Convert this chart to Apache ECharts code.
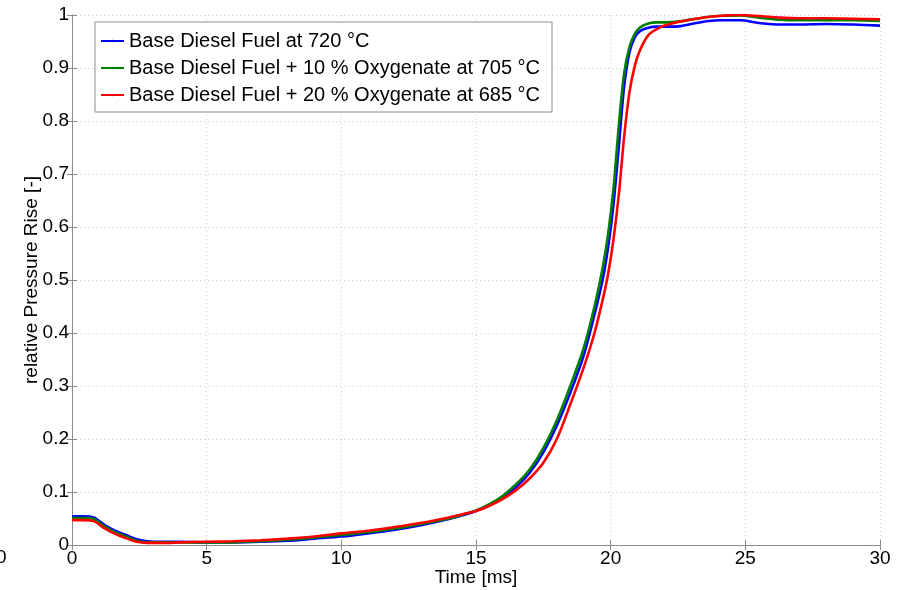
<!DOCTYPE html>
<html><head><meta charset="utf-8">
<script src="https://cdn.jsdelivr.net/npm/echarts@6/dist/echarts.min.js"></script>
<style>html,body{margin:0;padding:0;background:#fff}#c{width:905px;height:590px}</style>
</head><body><div id="c"></div>
<script>
const timeMs = [0, 0.4, 0.8, 1.2, 1.6, 2.0, 2.4, 2.8, 3.5, 4, 5, 6, 7, 8, 9, 10, 11, 12, 13, 14, 14.5, 15, 15.5, 16, 16.5, 17, 17.5, 18, 18.5, 19, 19.4, 19.7, 19.9, 20.1, 20.3, 20.5, 20.7, 20.9, 21.1, 21.4, 21.7, 22, 22.6, 23.3, 24, 24.8, 25.5, 26.3, 27, 28, 29, 30];
const base720 = [0.054, 0.054, 0.052, 0.038, 0.027, 0.019, 0.011, 0.007, 0.006, 0.006, 0.005, 0.005, 0.006, 0.008, 0.012, 0.016, 0.022, 0.029, 0.038, 0.049, 0.056, 0.064, 0.075, 0.09, 0.11, 0.137, 0.175, 0.225, 0.287, 0.358, 0.435, 0.50, 0.56, 0.64, 0.75, 0.865, 0.93, 0.958, 0.97, 0.976, 0.978, 0.978, 0.979, 0.986, 0.99, 0.99, 0.985, 0.982, 0.982, 0.983, 0.982, 0.980];
const oxy10_705 = [0.051, 0.051, 0.049, 0.035, 0.024, 0.016, 0.008, 0.005, 0.005, 0.005, 0.005, 0.005, 0.007, 0.010, 0.014, 0.019, 0.024, 0.031, 0.040, 0.050, 0.057, 0.065, 0.077, 0.093, 0.115, 0.143, 0.183, 0.235, 0.30, 0.372, 0.45, 0.522, 0.585, 0.67, 0.79, 0.89, 0.94, 0.965, 0.977, 0.984, 0.986, 0.986, 0.988, 0.994, 0.998, 0.999, 0.995, 0.991, 0.99, 0.99, 0.99, 0.989];
const oxy20_685 = [0.047, 0.047, 0.045, 0.032, 0.021, 0.013, 0.006, 0.004, 0.004, 0.005, 0.006, 0.007, 0.009, 0.012, 0.016, 0.022, 0.027, 0.034, 0.042, 0.052, 0.058, 0.064, 0.074, 0.087, 0.104, 0.126, 0.155, 0.20, 0.265, 0.335, 0.40, 0.462, 0.51, 0.575, 0.66, 0.77, 0.855, 0.905, 0.935, 0.962, 0.973, 0.98, 0.988, 0.994, 0.998, 1.0, 0.998, 0.995, 0.994, 0.994, 0.993, 0.992];
const seriesNames = ['Base Diesel Fuel at 720 °C', 'Base Diesel Fuel + 10 % Oxygenate at 705 °C', 'Base Diesel Fuel + 20 % Oxygenate at 685 °C'];
const seriesColors = ['#0000ff', '#008000', '#ff0000'];
const seriesValues = [base720, oxy10_705, oxy20_685];

const FONT = 'Liberation Sans';
const axisGray = '#8c8c8c';
const chart = echarts.init(document.getElementById('c'), null, {renderer: 'canvas'});
const mkSeries = (i) => ({
  name: seriesNames[i], type: 'line', symbol: 'none', smooth: 0.3,
  data: timeMs.map((t, k) => [t, seriesValues[i][k]]),
  lineStyle: {color: seriesColors[i], width: 2.6}, itemStyle: {color: seriesColors[i]},
  z: 3 + i, animation: false
});
chart.setOption({
  animation: false,
  textStyle: {fontFamily: FONT},
  grid: {left: 72, right: 25, top: 15, bottom: 45, containLabel: false, outerBoundsMode: 'none'},
  legend: {
    orient: 'vertical', left: 95, top: 22, itemWidth: 23, itemHeight: 3, itemGap: 7,
    padding: [9, 12, 7, 5], borderColor: '#8c8c8c', borderWidth: 1, backgroundColor: '#fff',
    textStyle: {fontFamily: FONT, fontSize: 20, color: '#000', lineHeight: 20},
    data: seriesNames
  },
  xAxis: [{
    type: 'value', min: 0, max: 30, interval: 5, position: 'bottom',
    name: 'Time [ms]', nameLocation: 'middle', nameGap: 23, nameMoveOverlap: false,
    nameTextStyle: {fontFamily: FONT, fontSize: 19, color: '#000'},
    axisLine: {show: true, lineStyle: {color: axisGray, width: 1}},
    axisTick: {show: true, inside: true, length: 5, lineStyle: {color: axisGray}},
    axisLabel: {fontFamily: FONT, fontSize: 19, color: '#000', margin: 4},
    splitLine: {show: true, lineStyle: {color: '#cfcfcf', type: [1, 3], width: 1}}
  }, {
    type: 'value', min: 0, max: 30, interval: 5, position: 'top',
    axisLine: {show: true, lineStyle: {color: axisGray, width: 1}},
    axisTick: {show: true, inside: true, length: 5, lineStyle: {color: axisGray}},
    axisLabel: {show: false}, splitLine: {show: false}
  }],
  yAxis: [{
    type: 'value', min: 0, max: 1, interval: 0.1, position: 'left',
    name: 'relative Pressure Rise [-]', nameLocation: 'middle', nameGap: 31, nameMoveOverlap: false,
    nameTextStyle: {fontFamily: FONT, fontSize: 19, color: '#000'},
    axisLine: {show: true, lineStyle: {color: axisGray, width: 1}},
    axisTick: {show: true, inside: true, length: 5, lineStyle: {color: axisGray}},
    axisLabel: {fontFamily: FONT, fontSize: 19, color: '#000', margin: 3,
      formatter: v => (v === 0 || v === 1) ? String(v) : v.toFixed(1)},
    splitLine: {show: true, lineStyle: {color: '#cfcfcf', type: [1, 3], width: 1}}
  }, {
    type: 'value', min: 0, max: 1, interval: 0.1, position: 'right',
    axisLine: {show: true, lineStyle: {color: axisGray, width: 1}},
    axisTick: {show: true, inside: true, length: 5, lineStyle: {color: axisGray}},
    axisLabel: {show: false}, splitLine: {show: false}
  }],
  graphic: [{type: 'text', left: -4, top: 548, style: {text: '0', font: '19px ' + FONT, fill: '#000'}}],
  series: [0, 1, 2].map(mkSeries)
});
</script></body></html>
